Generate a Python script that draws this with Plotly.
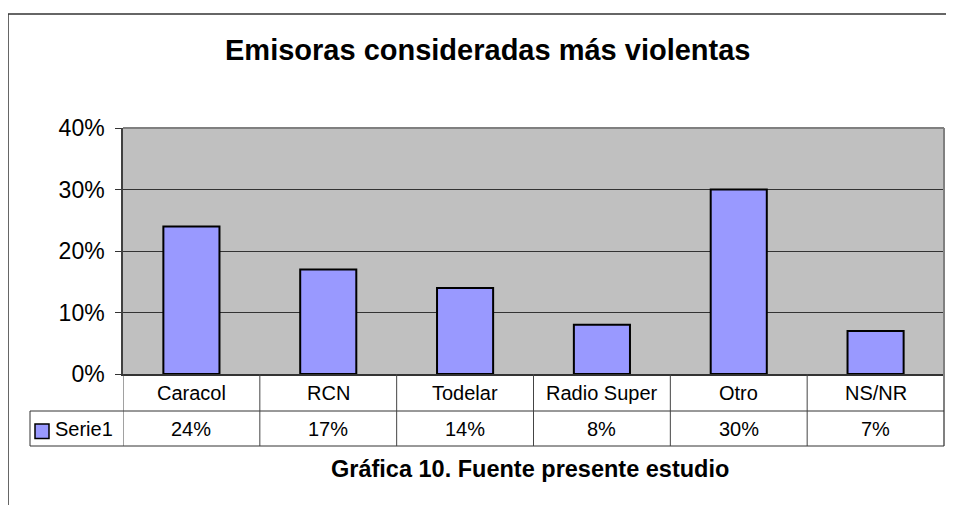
import plotly.graph_objects as go

W, H = 954, 505
OFF = 8  # page body margin in the browser

categories = ["Caracol", "RCN", "Todelar", "Radio Super", "Otro", "NS/NR"]
values = [0.24, 0.17, 0.14, 0.08, 0.30, 0.07]
series_name = "Serie1"
y_ticks = [0, 0.1, 0.2, 0.3, 0.4]
title_text = "Emisoras consideradas más violentas"
footer_text = "Gráfica 10. Fuente presente estudio"

FONT = "Arial, Liberation Sans, sans-serif"
BAR_COLOR = "#9999FF"


def px(x):
    return (x - OFF) / W


def py(y):
    return 1 - (y - OFF) / H


plot_left, plot_right, plot_top, plot_bottom = 123, 944, 128, 374
row1_bottom, row2_bottom = 411, 446
legend_left = 30

fig = go.Figure()
fig.add_trace(go.Bar(
    x=categories, y=values, name=series_name,
    marker=dict(color=BAR_COLOR, line=dict(color="black", width=2)),
))

shapes = []
# outer border (cropped at right/bottom)
shapes.append(dict(type="line", xref="paper", yref="paper", x0=px(8), x1=px(W + 20),
                   y0=py(14), y1=py(14), line=dict(color="#333333", width=1.5)))
shapes.append(dict(type="line", xref="paper", yref="paper", x0=px(8), x1=px(8),
                   y0=py(14), y1=py(H + 20), line=dict(color="#333333", width=1.5)))
# plot area top/right border
shapes.append(dict(type="line", xref="paper", yref="paper", x0=px(plot_left), x1=px(plot_right),
                   y0=py(plot_top), y1=py(plot_top), line=dict(color="#808080", width=2)))
shapes.append(dict(type="line", xref="paper", yref="paper", x0=px(plot_right), x1=px(plot_right),
                   y0=py(plot_top), y1=py(row2_bottom), line=dict(color="#808080", width=2)))
# table horizontal lines
for yy in (row1_bottom, row2_bottom):
    shapes.append(dict(type="line", xref="paper", yref="paper", x0=px(legend_left), x1=px(plot_right),
                       y0=py(yy), y1=py(yy), line=dict(color="#333333", width=1)))
# table vertical lines at category boundaries
for i in range(len(categories)):
    shapes.append(dict(type="line", xref="x", yref="paper", x0=i - 0.5, x1=i - 0.5,
                       y0=py(plot_bottom), y1=py(row2_bottom), line=dict(color="#444444", width=1)))
# legend cell left border
shapes.append(dict(type="line", xref="paper", yref="paper", x0=px(legend_left), x1=px(legend_left),
                   y0=py(row1_bottom), y1=py(row2_bottom), line=dict(color="#333333", width=1)))
# legend key
shapes.append(dict(type="rect", xref="paper", yref="paper", x0=px(35), x1=px(49),
                   y0=py(424), y1=py(438.5), fillcolor=BAR_COLOR, line=dict(color="black", width=1.5)))

annotations = []
annotations.append(dict(text=f"<b>{title_text}</b>", xref="paper", yref="paper", x=px(487), y=py(50),
                        xanchor="center", yanchor="middle", showarrow=False,
                        font=dict(family=FONT, size=29, color="black")))
annotations.append(dict(text=f"<b>{footer_text}</b>", xref="paper", yref="paper", x=px(529.5), y=py(469),
                        xanchor="center", yanchor="middle", showarrow=False,
                        font=dict(family=FONT, size=23.5, color="black")))
for c, v in zip(categories, values):
    annotations.append(dict(text=c, xref="x", yref="paper", x=c, y=py((plot_bottom + row1_bottom) / 2),
                            xanchor="center", yanchor="middle", showarrow=False,
                            font=dict(family=FONT, size=20, color="black")))
    annotations.append(dict(text=f"{v:.0%}", xref="x", yref="paper", x=c, y=py((row1_bottom + row2_bottom) / 2),
                            xanchor="center", yanchor="middle", showarrow=False,
                            font=dict(family=FONT, size=20, color="black")))
annotations.append(dict(text=series_name, xref="paper", yref="paper", x=px(53), y=py(429),
                        xanchor="left", yanchor="middle", showarrow=False,
                        font=dict(family=FONT, size=20, color="black")))

fig.update_layout(
    width=W, height=H, autosize=False,
    margin=dict(l=0, r=0, t=0, b=0, pad=0, autoexpand=False),
    paper_bgcolor="white",
    plot_bgcolor="#C0C0C0",
    showlegend=False,
    bargap=0.59,
    font=dict(family=FONT, color="black"),
    xaxis=dict(
        domain=[px(plot_left), px(plot_right)],
        type="category", range=[-0.5, len(categories) - 0.5],
        showticklabels=False, ticks="", showgrid=False, zeroline=False,
        showline=True, linecolor="#333333", linewidth=1.5,
        fixedrange=True, automargin=False,
    ),
    yaxis=dict(
        domain=[py(plot_bottom), py(plot_top)],
        range=[0, 0.4], tickvals=y_ticks, tickformat=".0%",
        ticks="outside", ticklen=6, tickcolor="#333333", tickwidth=1,
        ticklabelstandoff=6,
        tickfont=dict(family=FONT, size=23, color="black"),
        showgrid=True, gridcolor="#333333", gridwidth=1,
        zeroline=False, showline=True, linecolor="#404040", linewidth=1.5,
        fixedrange=True, automargin=False,
    ),
    shapes=shapes,
    annotations=annotations,
)

fig.write_html("out.html")
